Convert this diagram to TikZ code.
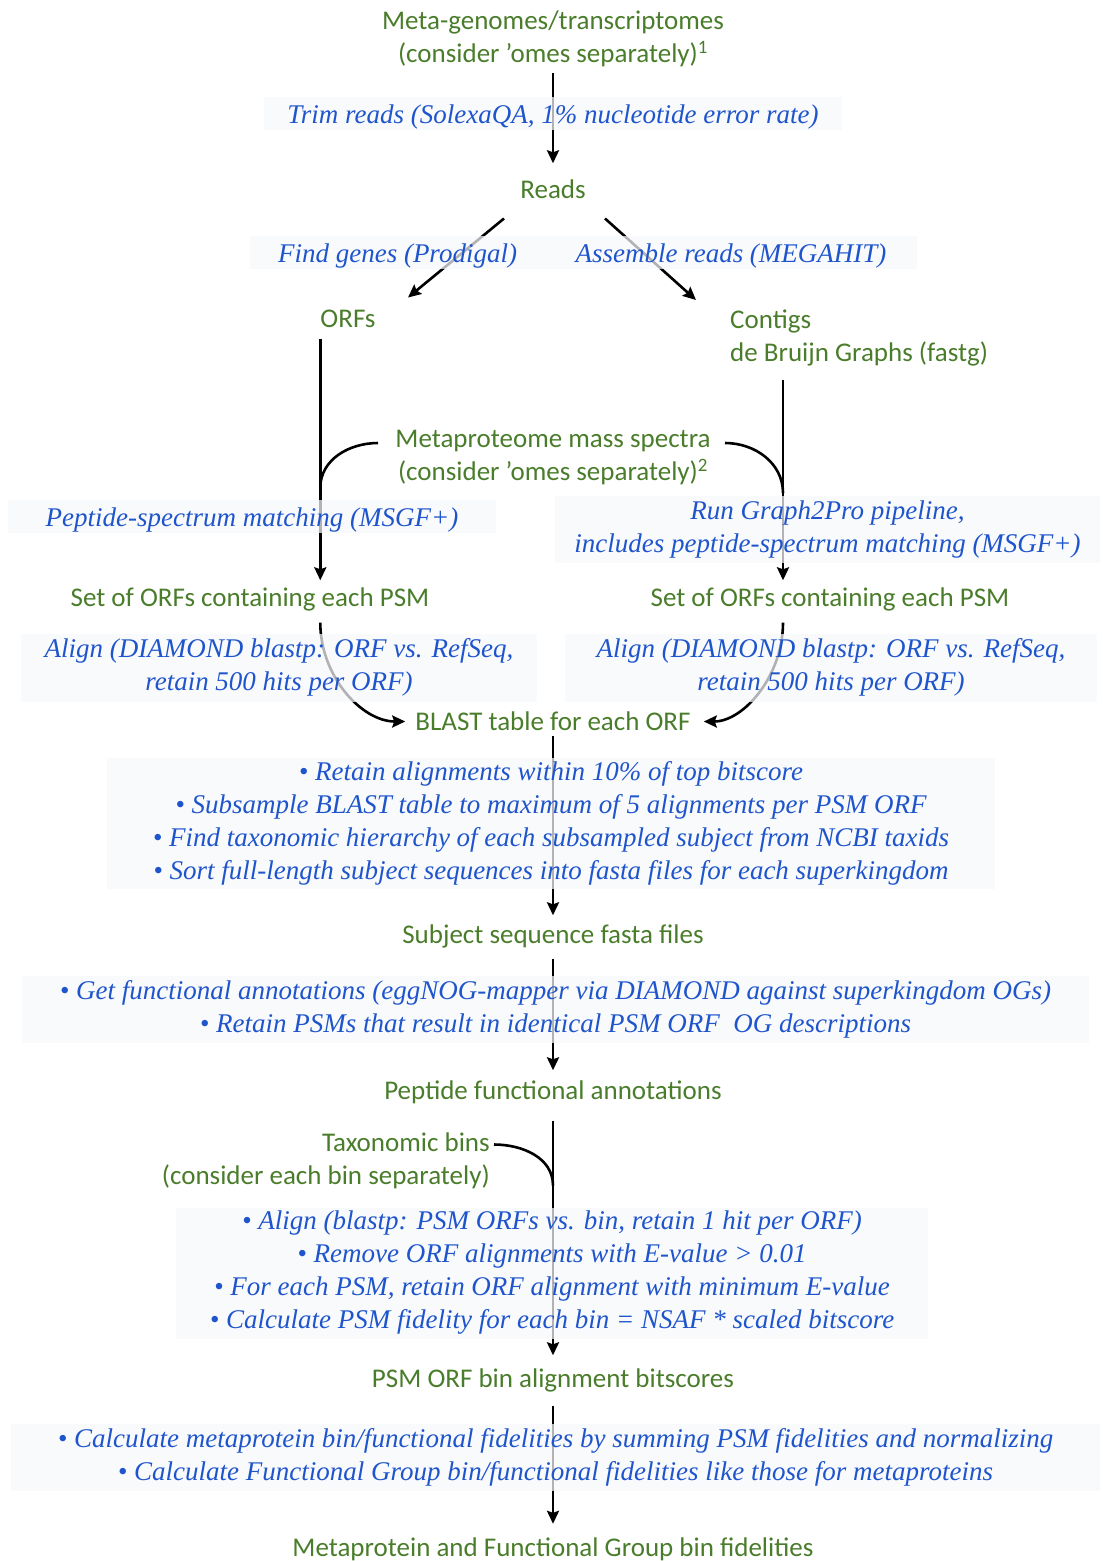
\documentclass[tikz,border=0pt]{standalone}
\usepackage{fontspec}
\usepackage{tikz}
\usetikzlibrary{positioning}
\usetikzlibrary{arrows.meta,calc}
\newfontfamily\greenfam{Carlito}
\newfontfamily\bluefam{Liberation Serif}
\newcommand{\stagefont}{\greenfam\fontsize{27}{33}\selectfont}
\newcommand{\todofont}{\bluefam\itshape\fontsize{27}{33}\selectfont}
\definecolor{stagegreen}{HTML}{4A7D2B}
\definecolor{todoblue}{HTML}{1F55CC}
\definecolor{todofill}{HTML}{F7F8FB}

\begin{document}
\begin{tikzpicture}[x=1pt,y=1pt,
  stage/.style={font=\stagefont,text=stagegreen,inner sep=0pt},
  oneline/.style={text height=20pt,text depth=3pt},
  todo/.style={font=\todofont,text=todoblue,align=center,inner sep=0pt,
    fill=todofill,fill opacity=0.72,text opacity=1,
    execute at begin node={\rule{0pt}{26pt}}},
  multi/.style={execute at begin node={\rule{0pt}{32pt}}}]

  \useasboundingbox (0,0) rectangle (1103,-1561);

  % Hauptspalte
  \node[stage,align=center] (meta) at (553,-39) {Meta-genomes/transcriptomes\\(consider ’omes separately)\textsuperscript{1}};
  \node[stage,oneline] (reads)   [below=150.5pt of meta.center,anchor=center] {Reads};
  \node[stage,align=center] (spectra) [below=268.5pt of reads.center,anchor=center] {Metaproteome mass spectra\\(consider ’omes separately)\textsuperscript{2}};
  \node[stage,oneline] (blast)   [below=532pt of reads.center,anchor=center] {BLAST table for each ORF};
  \node[stage,oneline] (subject) [below=213pt of blast.center,anchor=center] {Subject sequence fasta files};
  \node[stage,oneline] (pepfun)  [below=156pt of subject.center,anchor=center] {Peptide functional annotations};
  \node[stage,oneline] (psmorf)  [below=288pt of pepfun.center,anchor=center] {PSM ORF bin alignment bitscores};
  \node[stage,oneline] (final)   [below=169pt of psmorf.center,anchor=center] {Metaprotein and Functional Group bin fidelities};

  % Seitenzweige
  \node[stage,oneline] (orfs)    [below left=129pt and 205pt of reads.center,anchor=center] {ORFs};
  \node[stage,align=left] (contigs) [below right=19pt and 382pt of orfs.center,anchor=west] {Contigs\\de Bruijn Graphs (fastg)};
  \node[stage,oneline] (setL)    [below left=408pt and 303pt of reads.center,anchor=center] {Set of ORFs containing each PSM};
  \node[stage,oneline] (setR)    [right=580pt of setL.center,anchor=center] {Set of ORFs containing each PSM};
  \node[stage,align=right] (bins) [below left=70pt and 63pt of pepfun.center,anchor=east] {Taxonomic bins\\(consider each bin separately)};

  \coordinate (cgfoot) at ([xshift=53pt]contigs.south west);
  \coordinate (spinL) at ($(spectra.center)+(-175pt,15pt)$);
  \coordinate (spinR) at ($(spectra.center)+(172pt,15pt)$);
  \coordinate (joinL) at ($(spectra.center -| orfs.west)+(0,-30pt)$);
  \coordinate (joinR) at ($(spectra.center -| cgfoot)+(0,-35pt)$);
  \coordinate (alL) at ($(orfs.west |- setL.south)+(0,-13.5pt)$);
  \coordinate (alR) at ($(cgfoot |- setR.south)+(0,-13.5pt)$);
  \coordinate (binin) at ($(bins.east)+(4pt,16pt)$);
  \coordinate (binjoin) at ($(pepfun.center)+(0,-95pt)$);

  \path[->,>={Stealth[length=13pt,width=12pt,inset=2pt]},line width=2.6pt]
    (meta.south)    edge[shorten <=6pt,shorten >=14.5pt] (reads.north)
    ([shift={(-49pt,-29pt)}]reads.center) edge ([shift={(60pt,21pt)}]orfs.center)
    ([shift={(52pt,-29pt)}]reads.center)  edge ([shift={(-34pt,37.5pt)}]contigs.west)
    (orfs.west)     edge[shorten <=20pt,shorten >=5.5pt] (orfs.west |- setL.north)
    (cgfoot)        edge[shorten <=14pt,shorten >=5.5pt] (cgfoot |- setR.north)
    (alL)           edge[out=-90,in=180,shorten >=10pt] (blast.west)
    (alR)           edge[out=-90,in=0,shorten >=13pt] (blast.east)
    (blast.south)   edge[shorten <=2.5pt,shorten >=7.5pt] (subject.north)
    (subject.south) edge[shorten <=12.5pt,shorten >=8.5pt] (pepfun.north)
    (pepfun.south)  edge[shorten <=18.5pt,shorten >=11.5pt] (psmorf.north)
    (psmorf.south)  edge[shorten <=15.5pt,shorten >=12pt] (final.north);

  \path[line width=2.6pt]
    (spinL)  edge[out=180,in=90] (joinL)
    (spinR)  edge[out=0,in=90] (joinR)
    (binin)  edge[out=0,in=90] (binjoin);

  % Arbeitsschritte
  \node[todo,minimum width=578pt,minimum height=33pt] (trim) [below=74.5pt of meta.center,anchor=center] {Trim reads (SolexaQA, 1\% nucleotide error rate)};
  \node[todo,minimum width=295pt,minimum height=33pt] (genes) [below left=62.5pt and 155.5pt of reads.center,anchor=center] {Find genes (Prodigal)};
  \node[todo,minimum width=372pt,minimum height=33pt] (assemble) [below right=62.5pt and 178pt of reads.center,anchor=center] {Assemble reads (MEGAHIT)};
  \node[todo,minimum width=488pt,minimum height=33pt] (psmatch) [above right=81pt and 2pt of setL.center,anchor=center] {Peptide-spectrum matching (MSGF+)};
  \node[todo,multi,minimum width=545pt,minimum height=67pt] (graph2pro) [above left=68.5pt and 2.5pt of setR.center,anchor=center] {Run Graph2Pro pipeline,\\includes peptide-spectrum matching (MSGF+)};
  \node[todo,multi,minimum width=516pt,minimum height=68pt] (alignL) [below right=70pt and 29pt of setL.center,anchor=center] {Align (DIAMOND blastp: ORF vs. RefSeq,\\retain 500 hits per ORF)};
  \node[todo,multi,minimum width=532pt,minimum height=68pt] (alignR) [below right=70pt and 1pt of setR.center,anchor=center] {Align (DIAMOND blastp: ORF vs. RefSeq,\\retain 500 hits per ORF)};
  \node[todo,multi,minimum width=888pt,minimum height=131pt] (subsample) [below left=101.5pt and 2pt of blast.center,anchor=center]
    {• Retain alignments within 10\% of top bitscore\\
     • Subsample BLAST table to maximum of 5 alignments per PSM ORF\\
     • Find taxonomic hierarchy of each subsampled subject from NCBI taxids\\
     • Sort full-length subject sequences into fasta files for each superkingdom};
  \node[todo,multi,minimum width=1067pt,minimum height=67pt] (eggnog) [below right=74.5pt and 2.5pt of subject.center,anchor=center]
    {• Get functional annotations (eggNOG-mapper via DIAMOND against superkingdom OGs)\\
     • Retain PSMs that result in identical PSM ORF\ \ OG descriptions};
  \node[todo,multi,minimum width=752pt,minimum height=131pt] (binfid) [below left=182.5pt and 1pt of pepfun.center,anchor=center]
    {• Align (blastp: PSM ORFs vs. bin, retain 1 hit per ORF)\\
     • Remove ORF alignments with E-value > 0.01\\
     • For each PSM, retain ORF alignment with minimum E-value\\
     • Calculate PSM fidelity for each bin = NSAF * scaled bitscore};
  \node[todo,multi,minimum width=1089pt,minimum height=67pt] (metafid) [below right=78.5pt and 2.5pt of psmorf.center,anchor=center]
    {• Calculate metaprotein bin/functional fidelities by summing PSM fidelities and normalizing\\
     • Calculate Functional Group bin/functional fidelities like those for metaproteins};

\end{tikzpicture}
\end{document}
